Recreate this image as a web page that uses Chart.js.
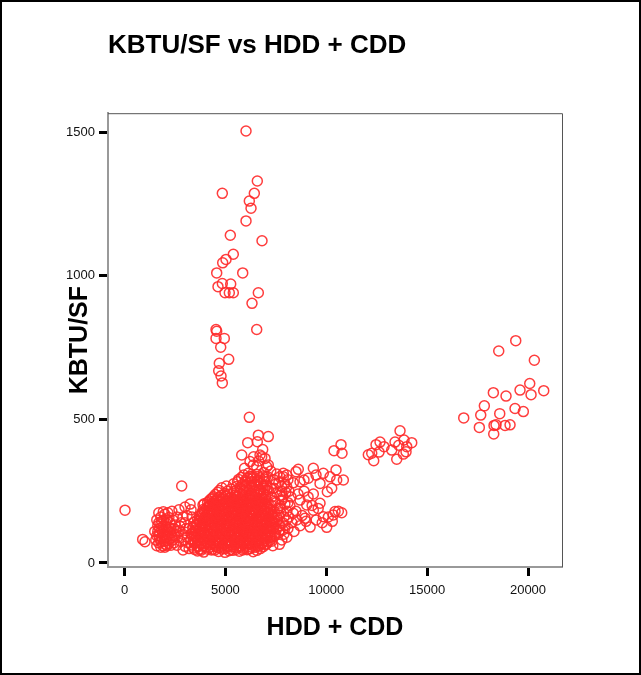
<!DOCTYPE html>
<html>
<head>
<meta charset="utf-8">
<title>KBTU/SF vs HDD + CDD</title>
<script src="https://cdn.jsdelivr.net/npm/chart.js@4.4.0/dist/chart.umd.min.js"></script>
<style>
  html, body { margin: 0; padding: 0; background: #fff; }
  #wrap { width: 641px; height: 675px; }
</style>
</head>
<body>
<div id="wrap"><canvas id="scatter" width="641" height="675"></canvas></div>
<script>
/* KBTU/SF vs HDD + CDD — scatter */

const FONT = "'Liberation Sans', Arial, sans-serif";

const xTicks = [0, 5000, 10000, 15000, 20000];
const yTicks = [0, 500, 1000, 1500];

// [HDD + CDD, KBTU/SF]
const upperColumn = [
    [6023,1504],[6583,1330],[4848,1287],[6435,1287],[6187,1260],[6271,1235],[6023,1191],[5245,1141],
    [6816,1122],[5393,1075],[5031,1057],[4867,1045],[4570,1010],[5859,1010],[4848,973],[5264,971],
    [4635,962],[4982,941],[5195,941],[5393,941],[6633,941],[6320,904],[4536,813],[4570,807],
    [6553,813],[4536,782],[4947,782],[4769,751],[5165,709],[4699,695],[4669,669],[4784,651],[4848,627]
];

const farRightGroup = [
    [19392,774],[18549,738],[20314,706],[20086,625],[18282,593],[19605,602],[18911,581],[20151,586],
    [20780,600],[17836,547],[19357,538],[19769,527],[18599,520],[17657,515],[16814,505],[17588,472],
    [18316,479],[18415,481],[18862,479],[19110,481],[18301,449]
];

const midRightGroup = [
    [13657,460],[12665,421],[12467,412],[13409,421],[13855,428],[14237,419],[13593,410],[13989,405],
    [12863,405],[13245,393],[12254,382],[12085,377],[12616,386],[13820,379],[13954,387],[13493,361],
    [12353,356],[10385,391],[10732,412],[10782,382]
];

const tailBand = [
    [8040,306],[8501,318],[8700,283],[8898,289],[9360,330],[9493,306],[9855,312],[10187,300],
    [10484,324],[10518,289],[10848,289],[9691,277],[9111,295],[8367,279],[10053,248],[10271,260],
    [9360,240],[8700,219],[9032,202],[9691,208],[9360,184],[10435,179],[10767,175],[10023,124],
    [8536,150],[8040,150],[9855,161],[8948,156],[10350,167],[8367,173],[7708,191],[7792,266],
    [7871,312],[8615,326],[7872,300],[8040,265],[7708,115],[7500,100],[7700,130],[7900,160],
    [7600,190],[7800,220],[8100,120],[8300,140],[8000,245],[7400,260],[7650,280],[8200,200],
    [8500,180],[8800,165],[8400,110],[8700,130],[9000,145],[9200,125],[9500,150],[9800,140],
    [10100,160],[10300,145],[10600,180],[9100,230],[8900,250],[9300,200],[9600,190],[8600,240],
    [7300,230],[7550,245],[7450,95],[7600,150],[7750,175],[7950,205],[8050,90],[7850,115],
    [8150,160],[7500,210],[7680,65],[7420,180],[7250,260],[7400,290],[7150,250],[7800,250],
    [7950,275],[7350,140],[7550,120],[7850,140],[8050,180],[8250,230],[7300,200],[7700,235],
    [8100,290],[7550,310],[7250,320],
    [7250,90],[7400,120],[7550,160],[7700,200],[7850,230],[7300,170],[7450,215],[7650,105],
    [7800,80],[7950,130],[8100,210],[7500,275],[7700,300],[7350,60],[7900,100],[8150,250],
    [7200,150],[7650,165]
];

const upperCluster = [
    [6187,507],[6107,419],[6583,422],[6633,445],[7128,440],[5810,376],[6717,376],[6965,364],
    [7128,341],[6221,353],[6553,335],[6137,312],[6385,341],[6801,370],[7049,335],[6400,370],
    [6850,395],[5950,330],[6650,355],[6300,300],[6900,315],[7100,300]
];

const leftCluster = [
    [25,184],[2835,268],[1016,74],[900,82],[1600,60],[1800,75],[2000,55],[2200,68],[2400,80],
    [2600,62],[2800,75],[3000,58],[3150,70],[1700,95],[1900,110],[2100,90],[2300,105],[2500,95],
    [2700,112],[2900,100],[3100,90],[1650,130],[1850,145],[2050,125],[2250,140],[2500,132],
    [2750,128],[3000,140],[3200,120],[1800,160],[2000,170],[2200,158],[1950,150],[2600,160],
    [3100,165],[3250,205],[1924,178],[1500,110],[1550,80],[2350,180],[2700,185],[3000,195],
    [1750,120],[2150,115],[1600,150],[2400,150],[1850,90],[2050,65],[2250,85],[1700,175],
    [2450,120],[2900,160],[3300,100],[3200,50],[2900,45],[3350,160],[3300,185],
    [1700,70],[1900,60],[2100,78],[2300,62],[1650,110],[1800,135],[2000,100],[2200,125],
    [2350,95],[2550,110],[2100,150],[1900,128],[1750,105],[2450,70],[2650,90],[2800,140],
    [2950,80],[3050,120],[1600,95],[2150,175],
    [1750,85],[1950,75],[2150,100],[1850,115],[2050,140],[1700,140],[2300,120],[1950,95],
    [2100,60],[1800,55]
];

const coreCluster = [
    [3620,42],[3930,38],[4310,45],[4660,40],[4980,37],[5370,44],[5690,41],[6070,46],[6380,39],
    [3440,52],[3770,49],[4040,55],[4380,48],[4630,53],[4960,50],[5270,47],[5530,54],[5880,51],[6140,48],[6470,55],[6730,50],
    [3330,63],[3680,58],[3940,61],[4270,65],[4540,59],[4870,62],[5130,57],[5460,64],[5760,60],[6030,66],[6370,61],[6640,58],[6980,64],
    [3510,72],[3790,68],[4120,74],[4390,70],[4720,67],[4990,73],[5320,71],[5590,68],[5920,74],[6180,69],[6520,72],[6790,67],[7120,73],
    [3290,82],[3610,78],[3880,84],[4220,80],[4480,77],[4820,83],[5090,79],[5420,81],[5680,76],[6020,84],[6290,80],[6620,78],[6880,83],[7210,79],
    [3460,92],[3730,88],[4070,94],[4330,89],[4670,91],[4940,87],[5270,93],[5540,90],[5870,86],[6130,92],[6470,89],[6740,94],[7060,88],
    [3340,101],[3670,98],[3930,104],[4270,100],[4530,97],[4870,103],[5140,99],[5470,102],[5730,97],[6070,104],[6330,100],[6670,98],[6930,103],[7310,99],
    [3520,112],[3780,108],[4120,113],[4380,109],[4720,111],[4980,107],[5320,114],[5580,110],[5920,106],[6180,112],[6520,109],[6780,114],[7120,108],
    [3380,122],[3720,118],[3980,124],[4320,119],[4580,121],[4920,117],[5180,123],[5520,120],[5780,116],[6120,124],[6380,119],[6720,122],[6980,118],[7360,123],
    [3570,131],[3830,128],[4170,133],[4430,129],[4770,132],[5030,127],[5370,134],[5630,130],[5970,126],[6230,133],[6570,129],[6830,134],[7170,128],
    [3430,142],[3770,138],[4030,144],[4370,139],[4630,141],[4970,137],[5230,143],[5570,140],[5830,136],[6170,144],[6430,139],[6770,142],[7030,138],[7420,141],
    [3620,151],[3880,148],[4220,154],[4480,149],[4820,152],[5080,147],[5420,153],[5680,150],[6020,146],[6280,154],[6620,149],[6880,152],[7270,147],
    [3720,162],[3980,158],[4320,163],[4580,159],[4920,161],[5180,157],[5520,164],[5780,160],[6120,156],[6380,163],[6720,159],[6980,162],[7370,158],
    [3870,171],[4130,168],[4470,173],[4730,169],[5070,172],[5330,167],[5670,174],[5930,170],[6270,166],[6530,173],[6870,169],[7130,172],
    [3960,182],[4230,178],[4570,183],[4830,179],[5170,181],[5430,177],[5770,184],[6030,180],[6370,176],[6630,183],[6970,179],[7230,182],
    [4070,191],[4330,188],[4670,193],[4930,189],[5270,192],[5530,187],[5870,194],[6130,190],[6470,186],[6730,193],[7070,189],
    [3890,202],[4220,198],[4480,204],[4820,199],[5080,201],[5420,197],[5680,203],[6020,200],[6280,196],[6620,204],[6880,199],
    [4120,211],[4380,208],[4720,213],[4980,209],[5320,212],[5580,207],[5920,214],[6180,210],[6520,206],[6780,213],[7120,209],
    [4270,222],[4530,218],[4870,223],[5130,219],[5470,221],[5730,217],[6070,224],[6330,220],[6670,216],[6930,223],
    [4420,231],[4680,228],[5020,233],[5280,229],[5620,232],[5880,227],[6220,234],[6480,230],[6820,226],
    [4620,246],[4980,242],[5420,248],[5720,244],[6020,247],[6280,241],[6620,249],[6880,243],
    [4820,262],[5280,258],[5720,263],[6060,259],[6340,264],[6670,257],[6960,261],
    [5410,276],[5820,272],[6170,278],[6440,273],[6770,277],[7060,271],
    [5660,291],[5990,287],[6320,293],[6580,288],[6920,292],
    [5910,306],[6240,302],[6570,308],[6860,303]
];

// second layer of the dense core, between the rows above
const coreInner = [
    [3470,47],[3780,44],[4130,48],[4480,45],[4820,49],[5180,43],[5520,47],[5860,45],[6220,50],[6560,44],
    [3600,57],[3910,59],[4220,55],[4510,58],[4800,56],[5110,60],[5400,57],[5710,55],[6010,59],[6300,56],[6600,60],[6880,57],
    [3480,67],[3820,66],[4100,69],[4420,64],[4700,68],[5000,66],[5300,63],[5610,69],[5900,65],[6210,67],[6500,64],[6820,69],[7050,66],
    [3400,77],[3650,75],[3950,79],[4260,76],[4560,74],[4850,78],[5170,75],[5460,77],[5770,79],[6060,74],[6360,77],[6660,75],[6950,78],[7300,76],
    [3560,87],[3870,85],[4170,88],[4490,84],[4780,87],[5070,89],[5400,85],[5690,88],[5980,84],[6280,86],[6580,89],[6890,85],[7200,88],
    [3490,96],[3800,94],[4110,97],[4400,95],[4700,98],[5010,94],[5290,97],[5600,95],[5900,98],[6210,96],[6500,94],[6800,97],[7100,95],
    [3380,106],[3660,104],[3970,107],[4250,105],[4560,108],[4860,104],[5170,106],[5460,108],[5760,104],[6040,107],[6370,105],[6640,108],[6960,104],[7250,107],
    [3540,116],[3850,114],[4150,117],[4460,115],[4760,118],[5060,114],[5370,116],[5670,118],[5960,115],[6270,117],[6570,114],[6880,116],[7200,118],
    [3430,126],[3760,124],[4050,127],[4360,125],[4660,128],[4960,124],[5260,126],[5560,128],[5870,124],[6180,127],[6480,125],[6790,128],[7080,124],
    [3580,136],[3890,134],[4200,137],[4500,135],[4800,138],[5100,134],[5400,136],[5700,138],[6000,134],[6320,137],[6620,135],[6930,138],[7280,134],
    [3690,146],[4000,144],[4300,147],[4610,145],[4910,148],[5210,144],[5520,146],[5820,148],[6120,144],[6430,147],[6730,145],[7040,148],[7350,144],
    [3800,156],[4080,154],[4380,157],[4680,155],[5000,158],[5300,154],[5600,156],[5910,158],[6200,154],[6520,157],[6820,155],[7140,158],
    [3760,166],[4020,164],[4300,167],[4600,165],[4900,168],[5200,164],[5500,166],[5800,168],[6100,164],[6400,167],[6700,165],[7000,168],[7280,164],
    [3850,176],[4150,174],[4400,177],[4700,175],[5000,178],[5300,174],[5600,176],[5900,178],[6200,174],[6500,177],[6800,175],[7100,178],
    [3900,186],[4200,184],[4500,187],[4800,185],[5100,188],[5400,184],[5700,186],[6000,188],[6300,184],[6600,187],[6900,185],[7200,188],
    [4150,196],[4400,194],[4700,197],[5000,195],[5300,198],[5600,194],[5900,196],[6200,198],[6500,194],[6800,197],[7100,195],
    [3950,206],[4250,204],[4550,207],[4850,205],[5150,208],[5450,204],[5750,206],[6050,208],[6350,204],[6650,207],[6950,205],
    [4200,216],[4450,214],[4750,217],[5050,215],[5350,218],[5650,214],[5950,216],[6250,218],[6550,214],[6850,217],
    [4350,226],[4600,224],[4900,227],[5200,225],[5500,228],[5800,224],[6100,226],[6400,228],[6700,224],[7000,227],
    [4500,238],[4800,236],[5150,239],[5500,237],[5850,240],[6150,236],[6450,238],[6750,240],[7000,236],
    [4700,252],[5100,250],[5550,253],[5900,251],[6200,254],[6450,250],[6750,252],[7050,254],
    [5050,268],[5550,266],[5950,269],[6250,267],[6550,270],[6850,266],
    [5600,283],[6000,281],[6300,284],[6600,282],[6900,285],
    [5800,298],[6100,296],[6400,299],[6700,297],[7000,300]
];

const points = [...leftCluster, ...coreCluster, ...coreInner, ...tailBand, ...upperCluster,
    ...upperColumn, ...midRightGroup, ...farRightGroup].map(([x, y]) => ({ x, y }));

// white page, box top/right edges, outer frame
const framePlugin = {
    id: 'frame',
    beforeDraw(chart) {
        const c = chart.ctx;
        c.save();
        c.fillStyle = '#fff';
        c.fillRect(0, 0, chart.width, chart.height);
        c.restore();
    },
    afterDraw(chart) {
        const c = chart.ctx;
        const a = chart.chartArea;
        c.save();
        c.strokeStyle = '#555';
        c.lineWidth = 1;
        c.beginPath();
        c.moveTo(a.left, a.top + 0.5);
        c.lineTo(a.right + 0.5, a.top + 0.5);
        c.lineTo(a.right + 0.5, a.bottom);
        c.stroke();
        c.strokeStyle = '#000';
        c.lineWidth = 2;
        c.strokeRect(1, 1, chart.width - 2, chart.height - 2);
        c.restore();
    }
};

new Chart(document.getElementById('scatter'), {
    type: 'scatter',
    data: {
        datasets: [{
            label: 'KBTU/SF',
            data: points,
            borderColor: 'rgba(255,45,45,0.92)',
            backgroundColor: 'rgba(0,0,0,0)',
            borderWidth: 1.5,
            pointRadius: 5,
            pointHoverRadius: 6
        }]
    },
    options: {
        responsive: false,
        animation: false,
        layout: { padding: { top: 16, left: 0, right: 79, bottom: 0 } },
        scales: {
            x: {
                type: 'linear',
                min: -818,
                max: 21685,
                afterBuildTicks: s => { s.ticks = xTicks.map(v => ({ value: v })); },
                afterFit: s => { s.height = 108; },
                grid: { drawOnChartArea: false, drawTicks: true, tickLength: 9, tickWidth: 3, tickColor: '#000' },
                border: { display: true, color: '#999', width: 2 },
                ticks: {
                    color: '#111',
                    font: { family: FONT, size: 13 },
                    padding: 7,
                    maxRotation: 0,
                    autoSkip: false,
                    callback: v => String(v)
                },
                title: {
                    display: true,
                    text: 'HDD + CDD',
                    color: '#000',
                    font: { family: FONT, size: 25, weight: 'bold' },
                    padding: { top: 0, bottom: 32 }
                }
            },
            y: {
                type: 'linear',
                min: -14,
                max: 1566,
                afterBuildTicks: s => { s.ticks = yTicks.map(v => ({ value: v })); },
                afterFit: s => { s.width = 108; },
                grid: { drawOnChartArea: false, drawTicks: true, tickLength: 9, tickWidth: 3, tickColor: '#000' },
                border: { display: true, color: '#999', width: 2 },
                ticks: {
                    color: '#111',
                    font: { family: FONT, size: 13 },
                    padding: 4,
                    autoSkip: false,
                    callback: v => String(v)
                },
                title: {
                    display: true,
                    text: 'KBTU/SF',
                    color: '#000',
                    font: { family: FONT, size: 25, weight: 'bold' },
                    padding: { top: 65, bottom: 0 }
                }
            }
        },
        plugins: {
            legend: { display: false },
            title: {
                display: true,
                text: 'KBTU/SF vs HDD + CDD',
                align: 'start',
                fullSize: false,
                color: '#000',
                font: { family: FONT, size: 26, weight: 'bold' },
                padding: { top: 14, bottom: 52 }
            }
        }
    },
    plugins: [framePlugin]
});
</script>
</body>
</html>
